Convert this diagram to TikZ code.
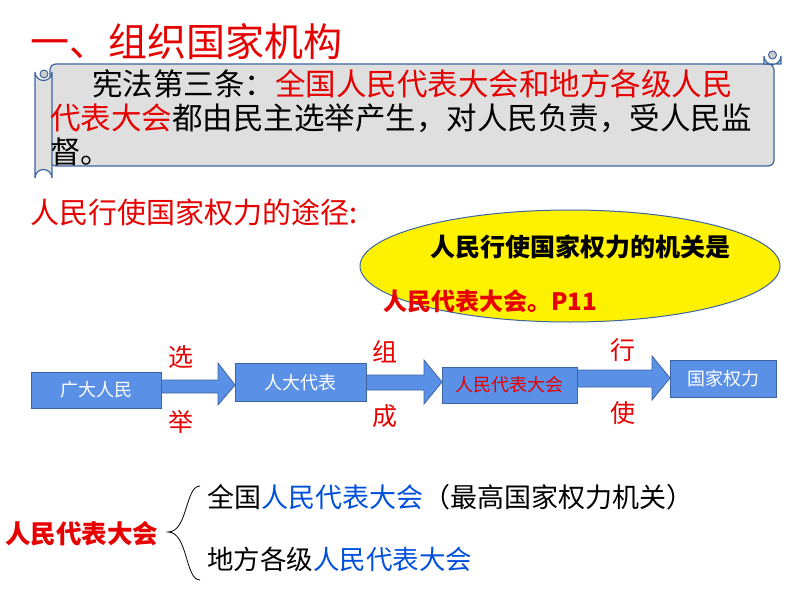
\documentclass[tikz,border=0pt]{standalone}
\usepackage{fontspec}
\setmainfont{Noto Sans CJK SC}
\usetikzlibrary{shapes.geometric}
\definecolor{rd}{RGB}{230,0,0}
\definecolor{bx}{RGB}{90,145,230}
\definecolor{bd}{RGB}{60,100,160}
\definecolor{bl}{RGB}{0,80,220}
\tikzset{
 boxn/.style={draw=bd,fill=bx,minimum height=36pt,inner sep=0pt,font=\fontsize{18}{18}\selectfont,text=white},
 barrow/.style={draw=bd,fill=bx,line width=0.8pt},
 lab/.style={text=rd,font=\fontsize{25}{25}\selectfont},
 scr/.style={anchor=west,font=\fontsize{30.5}{30.5}\selectfont,inner sep=0pt},
}
\begin{document}
\begin{tikzpicture}[x=1pt,y=-1pt]
\useasboundingbox (0,0) rectangle (794,596);
% title
\node[anchor=west,inner sep=0pt,text=rd,font=\fontsize{39}{39}\selectfont] (title) at (30,42) {一、组织国家机构};
% scroll
\draw[draw=bd,fill=gray!25,line width=1.2pt,rounded corners=6pt] (50,64) -- (774,64) -- (774,166) -- (50,166) -- cycle;
\draw[draw=bd,fill=gray!25,line width=1.2pt] (35,72) arc[start angle=180,end angle=0,radius=8.5] -- (52,178) arc[start angle=0,end angle=-180,radius=8.5] -- cycle;
\draw[draw=bd,fill=gray!40,line width=1pt] (44,74) circle[radius=4];
\draw[draw=bd,fill=gray!25,line width=1.2pt] (764,56) arc[start angle=180,end angle=0,radius=8.5] -- (781,64) -- (764,64) -- cycle;
\draw[draw=bd,fill=gray!40,line width=1pt] (772.5,55) circle[radius=4];
\node[scr] (l1) at (92,84) {宪法第三条：\textcolor{rd}{全国人民代表大会和地方各级人民}};
\node[scr] (l2) at (50,118) {\textcolor{rd}{代表大会}都由民主选举产生，对人民负责，受人民监};
\node[scr] (l3) at (50,152) {督。};
% ways
\node[anchor=west,inner sep=0pt,text=rd,font=\fontsize{29}{29}\selectfont] (ways) at (30,212) {人民行使国家权力的途径:};
\node[draw=bd,fill=yellow,line width=1pt,ellipse,minimum width=420pt,minimum height=112pt] (ell) at (570,266) {};
\node[inner sep=0pt,font=\bfseries\fontsize{25}{25}\selectfont] (e1) at (580,247) {人民行使国家权力的机关是};
\node[anchor=west,inner sep=0pt,text=rd,font=\bfseries\fontsize{24}{24}\selectfont] (e2) at (383,301) {人民代表大会。P11};
% flow
\node[boxn,minimum width=130pt,anchor=north west] (b1) at (31,372) {广大人民};
\node[boxn,minimum width=131pt,minimum height=38pt,anchor=north west] (b2) at (235,363) {人大代表};
\node[boxn,minimum width=135pt,anchor=north west,text=rd] (b3) at (442,367) {人民代表大会};
\node[boxn,minimum width=106pt,minimum height=37pt,anchor=north west] (b4) at (670,360) {国家权力};
\draw[barrow] (b1.east|-0,380) -- (218,380) -- (218,363) -- (b2.west|-0,385) -- (218,405) -- (218,393) -- (b1.east|-0,393) -- cycle;
\draw[barrow] (b2.east|-0,375) -- (424,375) -- (424,360) -- (b3.west|-0,382) -- (424,404) -- (424,390) -- (b2.east|-0,390) -- cycle;
\draw[barrow] (b3.east|-0,370) -- (652,370) -- (652,356) -- (b4.west|-0,378) -- (652,400) -- (652,387) -- (b3.east|-0,387) -- cycle;
\node[lab] (s1) at (181,357) {选};
\node[lab] (s2) at (181,422) {举};
\node[lab] (s3) at (385,352) {组};
\node[lab] (s4) at (385,416) {成};
\node[lab] (s5) at (623,350) {行};
\node[lab] (s6) at (623,413) {使};
% bottom
\node[anchor=west,inner sep=0pt,text=rd,font=\bfseries\fontsize{25.5}{25.5}\selectfont] (npc) at (5,534) {人民代表大会};
\draw[line width=0.8pt] (200,486) .. controls (185,486) and (188,532) .. (168,532) .. controls (188,532) and (185,580) .. (200,580);
\node[anchor=west,inner sep=0pt,font=\fontsize{27}{27}\selectfont] (t1) at (207,497) {全国\textcolor{bl}{人民代表大会}（最高国家权力机关）};
\node[anchor=west,inner sep=0pt,font=\fontsize{26.5}{26.5}\selectfont] (t2) at (207,559) {地方各级\textcolor{bl}{人民代表大会}};
\end{tikzpicture}
\end{document}
